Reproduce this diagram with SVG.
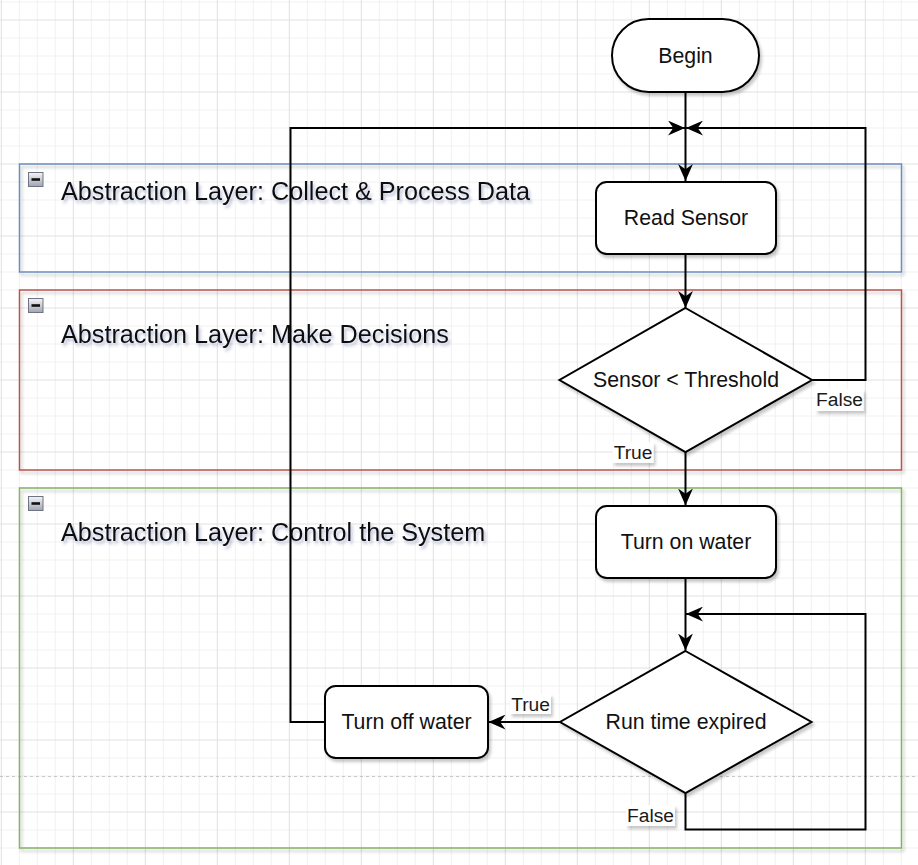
<svg xmlns="http://www.w3.org/2000/svg" width="918" height="865" viewBox="0 0 918 865">
<defs>
<pattern id="grid" x="0.8" y="19.5" width="72" height="72" patternUnits="userSpaceOnUse">
<path d="M18.5,0V72M36.5,0V72M54.5,0V72M0,18.5H72M0,36.5H72M0,54.5H72" stroke="#f1f1f1" stroke-width="1" fill="none"/>
<path d="M0.5,0V72M0,0.5H72" stroke="#e0e0e0" stroke-width="1" fill="none"/>
</pattern>
<filter id="sh" x="-10%" y="-10%" width="130%" height="140%">
<feDropShadow dx="2" dy="3" stdDeviation="1.6" flood-color="#000" flood-opacity="0.22"/>
</filter>
<filter id="tsh" x="-5%" y="-30%" width="110%" height="180%">
<feDropShadow dx="2" dy="3" stdDeviation="1.6" flood-color="#3a4a8a" flood-opacity="0.35"/>
</filter>
<linearGradient id="btn" x1="0" y1="0" x2="0" y2="1">
<stop offset="0" stop-color="#f4f5f8"/>
<stop offset="1" stop-color="#a0a5b2"/>
</linearGradient>
<marker id="arr" viewBox="0 0 16 14" refX="16" refY="7" markerWidth="17" markerHeight="15" markerUnits="userSpaceOnUse" orient="auto">
<path d="M0,0 L16,7 L0,14 L5,7 Z" fill="#000"/>
</marker>
<style>
.node{fill:#fff;stroke:#000;stroke-width:2;filter:url(#sh)}
.ntext{font-family:"Liberation Sans",Arial,sans-serif;font-size:21.3px;fill:#111;text-anchor:middle}
.title{font-family:"Liberation Sans",Arial,sans-serif;font-size:25.2px;fill:#111;filter:url(#tsh)}
.lbl{font-family:"Liberation Sans",Arial,sans-serif;font-size:19.2px;fill:#1a1a1a;text-anchor:middle}
.lblbg{fill:#fff;filter:url(#sh)}
.conn{fill:none;stroke:#000;stroke-width:2}
.cont{fill:none;stroke-width:1.5;filter:url(#sh)}
.btnbox{fill:url(#btn);stroke:#6f7482;stroke-width:1}
</style>
</defs>
<rect width="918" height="865" fill="#fff"/>
<rect width="918" height="865" fill="url(#grid)"/>
<line x1="0" y1="776.5" x2="918" y2="776.5" stroke="#c8c8c8" stroke-width="1" stroke-dasharray="3 3"/>

<g id="layer-collect">
<rect class="cont" x="19.5" y="164" width="882" height="108" stroke="#6c8ebf"/>
<rect class="btnbox" x="28.5" y="172.5" width="14.5" height="14"/>
<rect x="31.5" y="178.2" width="8.5" height="2.6" fill="#111"/>
<text class="title" x="61" y="199.5">Abstraction Layer: Collect &amp; Process Data</text>
</g>
<g id="layer-decide">
<rect class="cont" x="19.5" y="290" width="882" height="180" stroke="#b85450"/>
<rect class="btnbox" x="28.5" y="298.5" width="14.5" height="14"/>
<rect x="31.5" y="304.2" width="8.5" height="2.6" fill="#111"/>
<text class="title" x="61" y="343">Abstraction Layer: Make Decisions</text>
</g>
<g id="layer-control">
<rect class="cont" x="19.5" y="488" width="882" height="360" stroke="#82b366"/>
<rect class="btnbox" x="28.5" y="496.5" width="14.5" height="14"/>
<rect x="31.5" y="502.2" width="8.5" height="2.6" fill="#111"/>
<text class="title" x="61" y="541">Abstraction Layer: Control the System</text>
</g>

<g id="connectors">
<path class="conn" d="M685.5,92 L685.5,181" marker-end="url(#arr)"/>
<path class="conn" d="M685.5,254 L685.5,308" marker-end="url(#arr)"/>
<path class="conn" d="M685.5,452 L685.5,505.5" marker-end="url(#arr)"/>
<path class="conn" d="M812,380 L865.5,380 L865.5,128 L686,128" marker-end="url(#arr)"/>
<path class="conn" d="M685.5,578 L685.5,650.5" marker-end="url(#arr)"/>
<path class="conn" d="M685.5,793 L685.5,829.5 L865.5,829.5 L865.5,614 L686,614" marker-end="url(#arr)"/>
<path class="conn" d="M560,722 L488.5,722" marker-end="url(#arr)"/>
<path class="conn" d="M325,722 L290.5,722 L290.5,128 L685,128" marker-end="url(#arr)"/>
<g id="label-false-1">
<rect class="lblbg" x="815.5" y="389" width="48" height="22"/>
<text class="lbl" x="839.5" y="405.5">False</text>
</g>
<g id="label-true-1">
<rect class="lblbg" x="612.5" y="442" width="41" height="21"/>
<text class="lbl" x="633" y="459">True</text>
</g>
<g id="label-true-2">
<rect class="lblbg" x="510" y="694" width="41" height="20"/>
<text class="lbl" x="530.5" y="710.5">True</text>
</g>
<g id="label-false-2">
<rect class="lblbg" x="626" y="805" width="49" height="21"/>
<text class="lbl" x="650.5" y="822">False</text>
</g>
</g>

<g id="begin">
<rect class="node" x="612" y="19" width="147" height="73" rx="36.5" ry="36.5" stroke-width="3.2"/>
<text class="ntext" x="685.5" y="63">Begin</text>
</g>
<g id="read-sensor">
<rect class="node" x="596" y="182" width="180" height="72" rx="10.8"/>
<text class="ntext" x="686" y="225">Read Sensor</text>
</g>
<g id="sensor-threshold">
<polygon class="node" points="685.5,308 812,380 685.5,452 559.5,380"/>
<text class="ntext" x="686" y="387">Sensor &lt; Threshold</text>
</g>
<g id="turn-on-water">
<rect class="node" x="596" y="506" width="180" height="72" rx="10.8"/>
<text class="ntext" x="686" y="549">Turn on water</text>
</g>
<g id="run-time-expired">
<polygon class="node" points="685.5,651 811.5,722 685.5,793 560,722"/>
<text class="ntext" x="686" y="729">Run time expired</text>
</g>
<g id="turn-off-water">
<rect class="node" x="325" y="686" width="163" height="72" rx="10.8"/>
<text class="ntext" x="406.5" y="729">Turn off water</text>
</g>
</svg>
